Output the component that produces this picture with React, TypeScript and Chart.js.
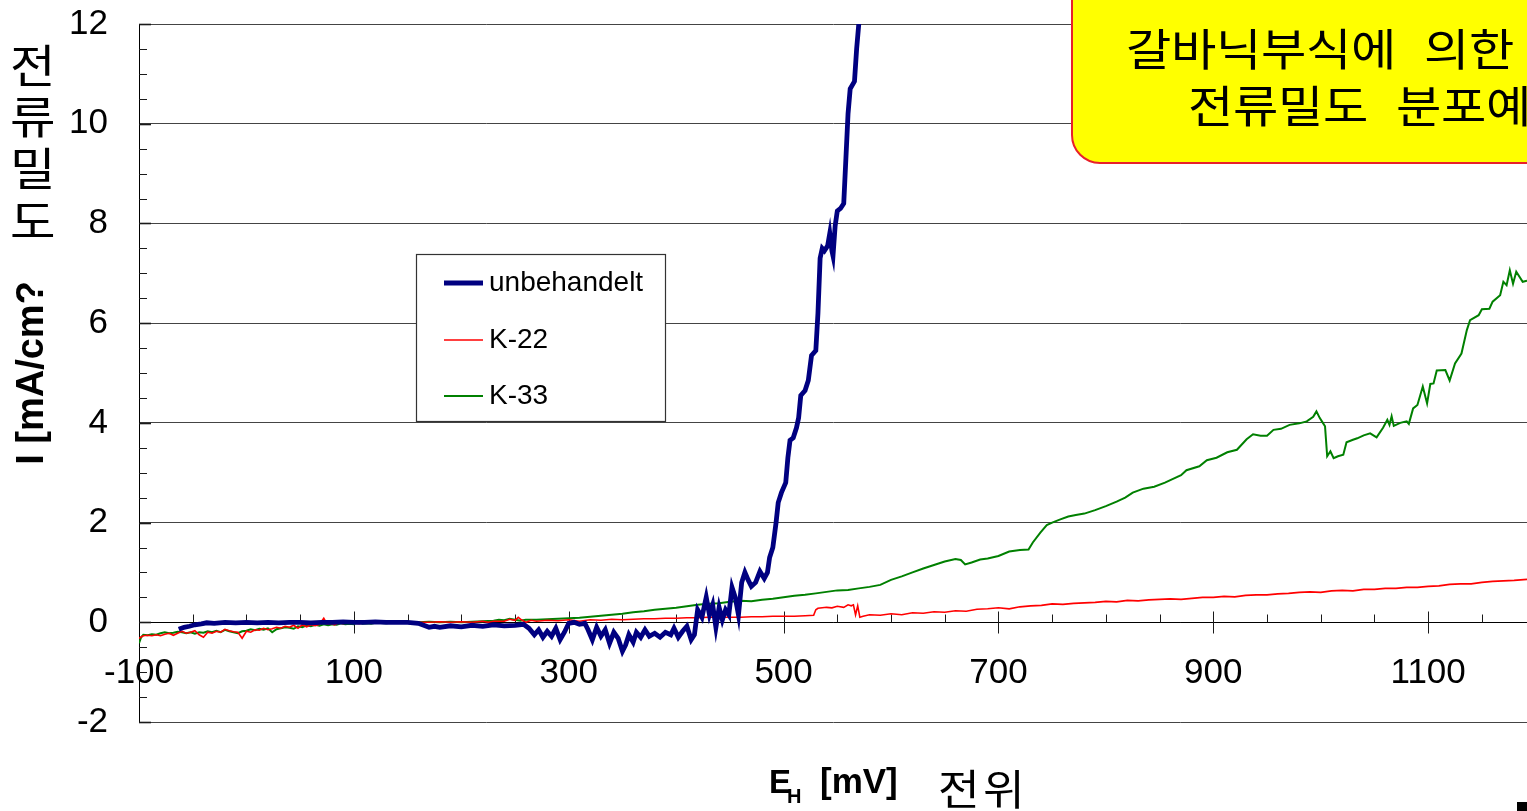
import React, { useEffect, useRef } from 'react';
import { Chart, registerables } from 'chart.js';

Chart.register(...registerables);

// ---------- axis setup ----------
const xTickValues = [-100, 100, 300, 500, 700, 900, 1100];
const yTickValues = [-2, 0, 2, 4, 6, 8, 10, 12];
const X_MIN = -100;
const X_MAX = 1192;
const Y_MIN = -2;
const Y_MAX = 12;
const X_MINOR_STEP = 50;
const Y_MINOR_STEP = 0.5;

const xTitleMain = 'E';
const xTitleSub = 'H';
const xTitleRest = '[mV]';
const xTitleKorean = '전위';
const yTitle = 'I [mA/cm?';
const yTitleKoreanChars = ['전', '류', '밀', '도'];
const calloutLines = ['갈바닉부식에 의한', '전류밀도 분포예'];

const seriesNames = ['unbehandelt', 'K-22', 'K-33'];
const seriesColors = ['#000080', '#FF0000', '#008000'];
const seriesWidths = [4.8, 1.6, 2];

// ---------- data: unbehandelt ----------
const unbehandeltX = [
  -63, -58, -53, -48, -42, -37, -30, -20, -10, 0, 10, 20, 30, 40, 50, 60, 70, 80, 90, 100,
  110, 120, 130, 140, 150, 160, 165, 170, 175, 180, 190, 200, 210, 220, 230, 240, 250, 258, 263, 268,
  272, 276, 280, 284, 288, 292, 296, 300, 305, 310, 315, 318, 322, 326, 330, 334, 338, 342, 346, 350,
  353, 356, 360, 363, 367, 371, 375, 380, 385, 390, 395, 398, 402, 406, 410, 414, 417, 420, 424, 428,
  431, 434, 437, 440, 443, 446, 449, 452, 455, 458, 461, 464, 467, 470, 474, 478, 482, 485, 487, 490,
  493, 495, 498, 502, 504, 506, 509, 512, 514, 516, 520, 523, 526, 530, 532, 534, 536, 538, 541, 543,
  545, 546, 548, 550, 553, 556, 558, 560, 562, 566, 568, 570, 572,
];
const unbehandeltY = [
  -0.14, -0.1, -0.08, -0.05, -0.03, -0.01, -0.02, 0.0, -0.01, 0.0, -0.01, 0.0, -0.01, 0.0, 0.0, -0.01, 0.0, 0.0, 0.01, 0.0,
  0.0, 0.01, 0.0, 0.0, 0.0, -0.02, -0.06, -0.1, -0.08, -0.1, -0.07, -0.09, -0.06, -0.08, -0.05, -0.07, -0.06, -0.04, -0.12, -0.25,
  -0.15, -0.3, -0.18, -0.28, -0.12, -0.35, -0.2, -0.02, 0.0, -0.04, -0.02, -0.15, -0.35, -0.1, -0.28, -0.15, -0.42, -0.2, -0.32, -0.58,
  -0.45, -0.25, -0.4, -0.2, -0.3, -0.15, -0.28, -0.22, -0.3, -0.2, -0.25, -0.12, -0.3, -0.18, -0.08, -0.35, -0.25, 0.25, 0.1, 0.5,
  0.15, 0.35, -0.1, 0.3, 0.05, 0.25, 0.15, 0.7, 0.5, 0.15, 0.8, 1.0, 0.85, 0.72, 0.8, 1.02, 0.88, 1.0, 1.3, 1.5,
  2.0, 2.4, 2.6, 2.8, 3.3, 3.65, 3.7, 3.9, 4.1, 4.55, 4.65, 4.85, 5.35, 5.45, 6.2, 7.3, 7.5, 7.45, 7.55, 7.8,
  7.45, 7.35, 7.95, 8.25, 8.3, 8.4, 9.3, 10.2, 10.7, 10.85, 11.5, 12.0, 12.3,
];

// ---------- data: K-22 ----------
const k22X = [
  -100, -96, -92, -88, -84, -80, -76, -72, -68, -64, -60, -56, -52, -48, -44, -40, -36, -32, -28, -24,
  -20, -16, -12, -8, -4, 0, 4, 8, 12, 16, 20, 24, 28, 32, 36, 40, 44, 48, 52, 56,
  60, 64, 68, 72, 75, 78, 82, 86, 90, 95, 100, 105, 110, 115, 120, 130, 140, 150, 160, 170,
  180, 190, 200, 210, 220, 225, 230, 240, 245, 250, 253, 256, 260, 265, 270, 280, 290, 300, 310, 320,
  330, 340, 350, 360, 370, 380, 390, 400, 410, 420, 430, 440, 450, 460, 470, 480, 490, 500, 510, 520,
  528, 530, 532, 540, 545, 550, 556, 560, 563, 565, 567, 569, 571, 574, 580, 590, 600, 610, 620, 630,
  640, 650, 660, 670, 680, 690, 700, 710, 720, 730, 740, 750, 760, 770, 780, 790, 800, 810, 820, 830,
  840, 850, 860, 870, 880, 890, 900, 910, 920, 930, 940, 950, 960, 970, 980, 990, 1000, 1010, 1020, 1030,
  1040, 1050, 1060, 1070, 1080, 1090, 1100, 1110, 1120, 1130, 1140, 1150, 1160, 1170, 1180, 1192,
];
const k22Y = [
  -0.32, -0.27, -0.26, -0.27, -0.25, -0.27, -0.24, -0.22, -0.26, -0.22, -0.18, -0.22, -0.2, -0.17, -0.25, -0.3, -0.2, -0.22, -0.18, -0.2,
  -0.14, -0.17, -0.19, -0.2, -0.32, -0.18, -0.2, -0.15, -0.16, -0.12, -0.15, -0.13, -0.1, -0.12, -0.08, -0.1, -0.06, -0.12, -0.05, -0.09,
  -0.05, -0.07, -0.04, 0.08, -0.03, -0.02, -0.05, -0.01, -0.03, 0.0, -0.02, -0.03, -0.01, -0.02, 0.0, -0.01, 0.0, -0.01, 0.0, 0.0,
  0.01, 0.0, 0.01, 0.0, 0.02, 0.0, 0.02, 0.02, 0.06, 0.04, 0.1, 0.05, 0.0, 0.04, 0.02, 0.04, 0.03, 0.05, 0.02, 0.05,
  0.04, 0.06, 0.05, 0.06, 0.07, 0.07, 0.08, 0.08, 0.09, 0.09, 0.1, 0.1, 0.1, 0.1, 0.11, 0.11, 0.12, 0.12, 0.12, 0.13,
  0.14, 0.25, 0.28, 0.3, 0.29, 0.32, 0.3, 0.35, 0.33, 0.35, 0.15, 0.33, 0.1, 0.12, 0.15, 0.14, 0.17, 0.15, 0.19, 0.18,
  0.21, 0.2, 0.23, 0.22, 0.26, 0.27, 0.29, 0.27, 0.31, 0.33, 0.34, 0.37, 0.36, 0.38, 0.39, 0.4, 0.42, 0.41, 0.44, 0.43,
  0.45, 0.46, 0.47, 0.46, 0.48, 0.5, 0.5, 0.52, 0.51, 0.54, 0.55, 0.55, 0.57, 0.58, 0.6, 0.61, 0.6, 0.63, 0.64, 0.63,
  0.66, 0.66, 0.68, 0.68, 0.7, 0.7, 0.72, 0.73, 0.76, 0.77, 0.77, 0.8, 0.82, 0.83, 0.84, 0.86,
];

// ---------- data: K-33 ----------
const k33X = [
  -100, -98, -96, -92, -88, -84, -80, -76, -72, -68, -64, -60, -56, -52, -48, -44, -40, -36, -32, -28,
  -24, -20, -16, -12, -8, -4, 0, 4, 8, 12, 16, 20, 24, 28, 32, 36, 40, 44, 48, 52,
  56, 60, 64, 68, 72, 76, 80, 84, 88, 92, 96, 100, 104, 108, 112, 116, 120, 130, 140, 150,
  160, 170, 180, 190, 200, 210, 220, 230, 235, 240, 245, 250, 255, 260, 270, 280, 290, 300, 310, 320,
  330, 340, 350, 360, 370, 380, 390, 400, 410, 420, 430, 440, 450, 460, 470, 480, 490, 500, 510, 520,
  530, 540, 550, 560, 570, 580, 590, 600, 610, 620, 630, 640, 650, 660, 665, 669, 675, 683, 690, 700,
  710, 720, 728, 732, 739, 745, 750, 757, 765, 772, 780, 790, 800, 810, 818, 825, 835, 845, 855, 862,
  870, 875, 887, 894, 903, 913, 922, 931, 937, 944, 950, 956, 963, 971, 980, 987, 993, 996, 999, 1002,
  1004, 1006, 1009, 1012, 1016, 1021, 1024, 1030, 1034, 1040, 1046, 1052, 1058, 1062, 1064, 1066, 1068, 1074, 1080, 1082,
  1086, 1090, 1095, 1099, 1102, 1105, 1108, 1116, 1120, 1125, 1131, 1136, 1139, 1147, 1150, 1157, 1160, 1167, 1170, 1173,
  1176, 1179, 1182, 1188, 1192,
];
const k33Y = [
  -0.42, -0.3, -0.25, -0.26, -0.24, -0.25, -0.22, -0.2, -0.22, -0.21, -0.19, -0.2, -0.22, -0.2, -0.23, -0.2, -0.21, -0.18, -0.2, -0.17,
  -0.2, -0.15, -0.18, -0.2, -0.22, -0.18, -0.17, -0.14, -0.16, -0.13, -0.15, -0.12, -0.2, -0.14, -0.12, -0.1, -0.11, -0.13, -0.08, -0.1,
  -0.06, -0.08, -0.05, -0.07, -0.04, -0.06, -0.04, -0.05, -0.02, -0.04, -0.03, -0.04, 0.02, -0.03, -0.02, -0.03, -0.01, -0.02, 0.0, -0.01,
  0.0, 0.01, 0.0, 0.01, 0.0, 0.01, 0.02, 0.03, 0.05, 0.04, 0.07, 0.05, 0.03, 0.05, 0.05, 0.06, 0.07, 0.08, 0.09, 0.11,
  0.13, 0.15, 0.17, 0.2, 0.22, 0.25, 0.27, 0.29, 0.32, 0.35, 0.37, 0.38, 0.41, 0.43, 0.42, 0.45, 0.47, 0.5, 0.53, 0.55,
  0.58, 0.61, 0.64, 0.65, 0.68, 0.71, 0.75, 0.85, 0.92, 1.0, 1.08, 1.15, 1.22, 1.27, 1.25, 1.16, 1.2, 1.26, 1.28, 1.33,
  1.42, 1.45, 1.46, 1.6, 1.8, 1.95, 2.0, 2.06, 2.12, 2.15, 2.18, 2.25, 2.33, 2.42, 2.5, 2.6, 2.68, 2.72, 2.8, 2.87,
  2.95, 3.05, 3.13, 3.25, 3.3, 3.41, 3.46, 3.67, 3.77, 3.74, 3.74, 3.86, 3.88, 3.96, 3.99, 4.03, 4.12, 4.23, 4.1, 4.0,
  3.93, 3.33, 3.43, 3.29, 3.33, 3.36, 3.61, 3.66, 3.69, 3.75, 3.79, 3.71, 3.9, 4.06, 3.96, 4.13, 3.94, 4.0, 4.03, 3.98,
  4.29, 4.36, 4.73, 4.39, 4.78, 4.79, 5.05, 5.06, 4.85, 5.19, 5.39, 5.86, 6.06, 6.16, 6.28, 6.29, 6.43, 6.56, 6.83, 6.76,
  7.06, 6.79, 7.03, 6.83, 6.85,
];

const seriesX = [unbehandeltX, k22X, k33X];
const seriesY = [unbehandeltY, k22Y, k33Y];

const SANS = '"Liberation Sans", Arial, sans-serif';
const KR = '"Noto Sans CJK KR", "Noto Sans", sans-serif';

// one glyph, widened horizontally (the original uses a wide Korean gothic face)
function drawWide(ctx: CanvasRenderingContext2D, ch: string, x: number, y: number, sx: number) {
  ctx.save();
  ctx.translate(x, y);
  ctx.scale(sx, 1);
  ctx.fillText(ch, 0, 0);
  ctx.restore();
}

// a line of Korean text drawn glyph by glyph with a fixed pitch
function drawSpaced(ctx: CanvasRenderingContext2D, text: string, x: number, y: number, pitch: number, spaceW: number, sx: number) {
  let cx = x;
  for (const ch of Array.from(text)) {
    if (ch === ' ') {
      cx += spaceW;
      continue;
    }
    drawWide(ctx, ch, cx, y, sx);
    cx += pitch;
  }
}

const decorPlugin = {
  id: 'decor',
  beforeDatasetsDraw(chart: any) {
    const ctx = chart.ctx;
    const xs = chart.scales.x;
    const ys = chart.scales.y;
    const ca = chart.chartArea;
    const y0 = Math.round(ys.getPixelForValue(0)) + 0.5;
    ctx.save();
    ctx.strokeStyle = '#1a1a1a';
    ctx.lineWidth = 1;
    for (let v = X_MIN + X_MINOR_STEP; v <= X_MAX; v += X_MINOR_STEP) {
      const px = Math.round(xs.getPixelForValue(v)) + 0.5;
      const major = xTickValues.includes(v);
      ctx.beginPath();
      ctx.moveTo(px, y0 - (major ? 11 : 8));
      ctx.lineTo(px, y0 + (major ? 11 : 0));
      ctx.stroke();
    }
    for (let v = Y_MIN; v <= Y_MAX + 1e-9; v += Y_MINOR_STEP) {
      const py = Math.round(ys.getPixelForValue(v)) + 0.5;
      const major = yTickValues.includes(v);
      ctx.lineWidth = major ? 1.6 : 1;
      ctx.beginPath();
      ctx.moveTo(ca.left, py);
      ctx.lineTo(ca.left + (major ? 12 : 8), py);
      ctx.stroke();
    }
    ctx.restore();
  },
  afterDraw(chart: any) {
    const ctx = chart.ctx;
    ctx.save();

    // legend box
    const lx = 416, ly = 254, lw = 249, lh = 167;
    ctx.fillStyle = '#ffffff';
    ctx.fillRect(lx, ly, lw, lh);
    ctx.strokeStyle = '#333333';
    ctx.lineWidth = 1.2;
    ctx.strokeRect(lx + 0.5, ly + 0.5, lw, lh);
    const rows = [283, 340, 396];
    chart.data.datasets.forEach((ds: any, i: number) => {
      ctx.strokeStyle = ds.borderColor;
      ctx.lineWidth = i === 0 ? 5 : ds.borderWidth;
      ctx.beginPath();
      ctx.moveTo(444, rows[i]);
      ctx.lineTo(483, rows[i]);
      ctx.stroke();
      ctx.fillStyle = '#000';
      ctx.font = `28px ${SANS}`;
      ctx.textBaseline = 'middle';
      ctx.textAlign = 'left';
      ctx.fillText(ds.label, 489, rows[i]);
    });

    // yellow callout
    ctx.beginPath();
    ctx.roundRect(1072, -30, 500, 193, 28);
    ctx.fillStyle = '#FFFF00';
    ctx.fill();
    ctx.strokeStyle = '#E8202A';
    ctx.lineWidth = 2;
    ctx.stroke();
    ctx.fillStyle = '#000';
    ctx.font = `44px ${KR}`;
    ctx.textBaseline = 'middle';
    ctx.textAlign = 'left';
    drawSpaced(ctx, calloutLines[0], 1126, 49, 45, 28, 1.12);
    drawSpaced(ctx, calloutLines[1], 1188, 106, 45, 28, 1.12);

    // stacked Korean y-title
    ctx.font = `45px ${KR}`;
    ctx.textAlign = 'left';
    const kyc = [66, 117, 169, 222];
    yTitleKoreanChars.forEach((c, i) => drawWide(ctx, c, 10, kyc[i], 1.1));

    // x title with subscript
    ctx.textBaseline = 'alphabetic';
    ctx.font = `bold 33px ${SANS}`;
    ctx.fillText(xTitleMain, 769, 793);
    ctx.font = `bold 20px ${SANS}`;
    ctx.fillText(xTitleSub, 787, 803);
    ctx.font = `bold 35px ${SANS}`;
    ctx.fillText(xTitleRest, 820, 793);
    ctx.font = `42px ${KR}`;
    ctx.textBaseline = 'middle';
    drawSpaced(ctx, xTitleKorean, 938, 789, 45, 12, 1.08);

    // small black mark at the bottom-right corner
    ctx.fillStyle = '#000';
    ctx.fillRect(1517, 802, 10, 9);
    ctx.restore();
  },
};

export default function App() {
  const canvasRef = useRef<HTMLCanvasElement | null>(null);

  useEffect(() => {
    const canvas = canvasRef.current;
    if (!canvas) return;
    const datasets = seriesNames.map((name, i) => ({
      label: name,
      data: seriesX[i].map((x, j) => ({ x, y: seriesY[i][j] })),
      borderColor: seriesColors[i],
      backgroundColor: seriesColors[i],
      borderWidth: seriesWidths[i],
      pointRadius: 0,
      tension: 0,
      fill: false,
    }));
    const chart = new Chart(canvas, {
      type: 'line',
      data: { datasets },
      plugins: [decorPlugin],
      options: {
        animation: false,
        responsive: false,
        devicePixelRatio: 1,
        layout: { padding: { left: 0, right: 0, top: 24, bottom: 89 } },
        plugins: {
          legend: { display: false },
          tooltip: { enabled: false },
        },
        scales: {
          x: {
            type: 'linear',
            min: X_MIN,
            max: X_MAX,
            position: { y: 0 } as any,
            afterBuildTicks: (s: any) => {
              s.ticks = xTickValues.map((v) => ({ value: v }));
            },
            afterFit: (s: any) => {
              s.height = 0;
              s.paddingLeft = 0;
              s.paddingRight = 0;
            },
            grid: { display: false, drawTicks: false },
            border: { display: true, color: '#000', width: 1 },
            ticks: {
              padding: 30,
              color: '#000',
              maxRotation: 0,
              autoSkip: false,
              font: { family: SANS, size: 35 },
              callback: (v: any) => String(v),
            },
          },
          y: {
            type: 'linear',
            min: Y_MIN,
            max: Y_MAX,
            afterBuildTicks: (s: any) => {
              s.ticks = yTickValues.map((v) => ({ value: v }));
            },
            afterFit: (s: any) => {
              s.width = 139;
              s.paddingTop = 0;
              s.paddingBottom = 0;
            },
            grid: { color: '#444444', lineWidth: 1, drawTicks: false },
            border: { display: true, color: '#000', width: 1 },
            ticks: {
              padding: 31,
              color: '#000',
              font: { family: SANS, size: 35 },
              callback: (v: any) => String(v),
            },
            title: {
              display: true,
              text: yTitle,
              color: '#000',
              font: { family: SANS, size: 38, weight: 'bold' },
              padding: { top: 10, bottom: 0 },
            },
          },
        },
      },
    });
    return () => chart.destroy();
  }, []);

  return (
    <div style={{ position: 'fixed', left: 0, top: 0, width: 1527, height: 811, overflow: 'hidden', background: '#fff' }}>
      <canvas ref={canvasRef} width={1527} height={811} style={{ display: 'block' }} />
    </div>
  );
}
